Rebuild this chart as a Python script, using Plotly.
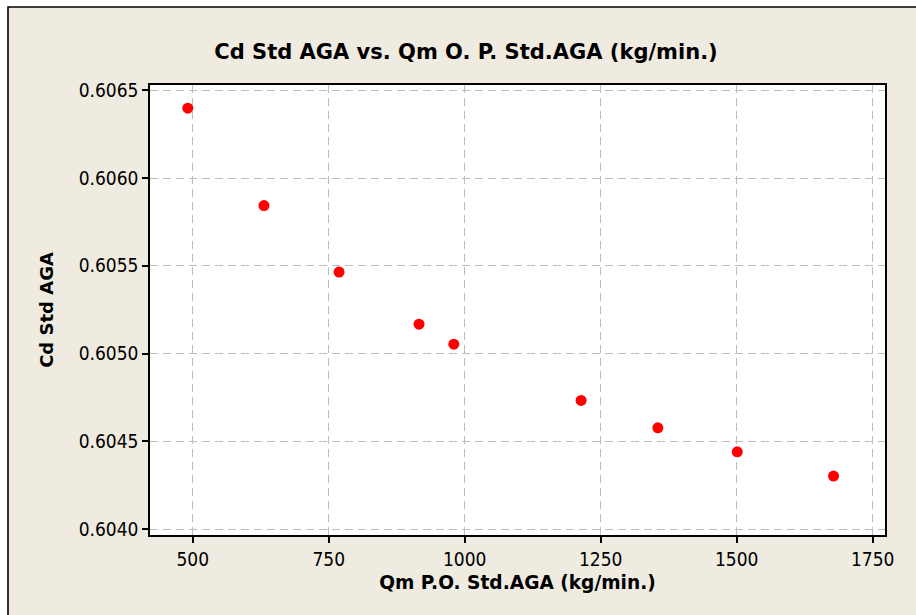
import plotly.graph_objects as go

qm = [491, 631, 769, 916, 980, 1214, 1355, 1501, 1678]
cd = [0.606398, 0.605843, 0.605464, 0.605167, 0.605053, 0.604733, 0.604577, 0.604440, 0.604302]

x_ticks = [500, 750, 1000, 1250, 1500, 1750]
y_ticks = [0.6040, 0.6045, 0.6050, 0.6055, 0.6060, 0.6065]
y_tick_text = ["0.6040", "0.6045", "0.6050", "0.6055", "0.6060", "0.6065"]

FONT = "DejaVu Sans Condensed, DejaVu Sans, sans-serif"
BFONT = "DejaVu Sans, sans-serif"
BEIGE = "#EFEBE0"

fig = go.Figure(go.Scatter(
    x=qm, y=cd, mode="markers",
    marker=dict(color="#FF0000", size=11, line=dict(width=0)),
))

W, H = 916, 615
L, T = 150, 85
pw, ph = 735, 450
R, B = W - L - pw, H - T - ph

# outer frame border
fig.add_shape(type="rect", xref="paper", yref="paper",
              x0=-(L - 8) / pw, x1=(W + 10 - L) / pw,
              y0=-(B + 10) / ph, y1=1 + (T - 7) / ph,
              fillcolor="rgba(0,0,0,0)", line=dict(color="black", width=1.6))

axis_common = dict(
    showline=True, mirror=True, linecolor="black", linewidth=1.5,
    ticks="outside", ticklen=6, tickwidth=1.5, tickcolor="black",
    showgrid=True, gridcolor="#BDBDBD", griddash="8px,5px", gridwidth=1.2,
    zeroline=False,
    tickfont=dict(family=FONT, size=19, color="black"),
)

fig.update_layout(
    width=W, height=H,
    margin=dict(l=L, r=R, t=T, b=B),
    paper_bgcolor=BEIGE, plot_bgcolor="white",
    showlegend=False,
    title=dict(text="<b>Cd Std AGA vs. Qm O. P. Std.AGA (kg/min.)</b>",
               x=466 / W, xanchor="center", y=1 - 52 / H, yanchor="middle",
               font=dict(family=BFONT, size=21, color="black")),
    xaxis=dict(range=[421.5, 1772.6], tickvals=x_ticks,
               title=dict(text="<b>Qm P.O. Std.AGA (kg/min.)</b>", standoff=7,
                          font=dict(family=BFONT, size=18.6, color="black")),
               **axis_common),
    yaxis=dict(range=[0.603966, 0.60653], tickvals=y_ticks, ticktext=y_tick_text,
               title=dict(text="<b>Cd Std AGA</b>", standoff=20,
                          font=dict(family=BFONT, size=18, color="black")),
               **axis_common),
)

# white band above and left of the frame, as in the reference
fig.add_shape(type="rect", xref="paper", yref="paper",
              x0=-L / pw, x1=(W - L) / pw, y0=1 + (T - 7) / ph, y1=1 + T / ph,
              fillcolor="white", line=dict(width=0), layer="below")
fig.add_shape(type="rect", xref="paper", yref="paper",
              x0=-L / pw, x1=-(L - 8) / pw, y0=-B / ph, y1=1 + T / ph,
              fillcolor="white", line=dict(width=0), layer="below")

fig.write_html("out.html",
               config={"displayModeBar": False},
               post_script="document.body.style.margin='0';document.body.style.overflow='hidden';")
